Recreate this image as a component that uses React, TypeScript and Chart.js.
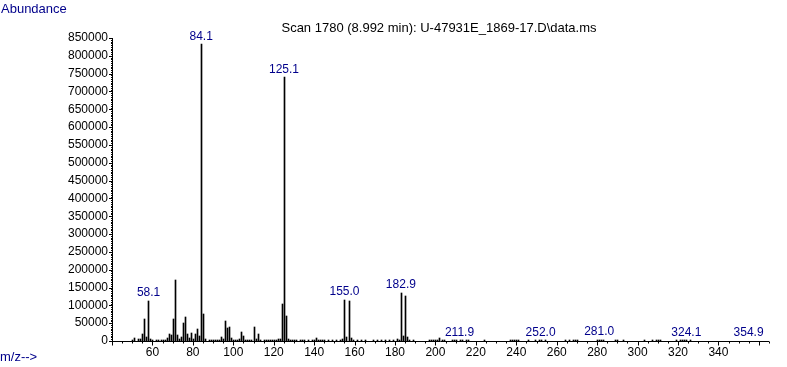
import React, { useEffect, useRef } from "react";
import { Chart, registerables } from "chart.js";

Chart.register(...registerables);

// ---- data ----
const mzValues = [
  50, 51, 53, 54, 55, 56, 57, 58, 59, 60, 62, 63, 64, 65, 66, 67, 68, 69, 70, 71, 72, 73, 74, 75, 76, 77, 78, 79, 80,
  81, 82, 83, 84, 85, 86, 88, 89, 90, 91, 92, 93, 94, 95, 96, 97, 98, 99, 100, 101, 102, 103, 104, 105, 106, 107, 108,
  109, 110, 111, 112, 113, 115, 116, 117, 118, 119, 120, 121, 122, 123, 124, 125, 126, 127, 128, 129, 130, 131, 133,
  134, 135, 137, 139, 140, 141, 142, 143, 144, 145, 147, 149, 151, 153, 154, 155, 156, 157, 158, 159, 161, 163, 165,
  169, 171, 173, 175, 177, 179, 181, 182, 183, 184, 185, 186, 187, 189, 197, 198, 199, 200, 201, 202, 203, 204, 208,
  209, 210, 212, 213, 215, 216, 224, 237, 238, 239, 240, 241, 246, 249, 251, 252, 254, 264, 266, 268, 269, 270, 280,
  281, 282, 283, 289, 290, 293, 303, 307, 309, 310, 311, 319, 321, 322, 323, 324, 326,
];
const abundances = [
  3000, 8000, 6000, 6000, 20000, 62000, 12000, 112000, 5000, 2000, 2000, 3000, 2000, 3000, 3000, 8000, 20000, 17000,
  62000, 171000, 17000, 5000, 11000, 51000, 67000, 19000, 9000, 23000, 7000, 20000, 34000, 15000, 832000, 75000, 5000,
  2000, 3000, 2000, 3000, 2000, 3000, 11000, 6000, 56000, 36000, 39000, 8000, 2000, 3000, 3000, 6000, 25000, 14000,
  3000, 2000, 4000, 4000, 39000, 6000, 20000, 3000, 2000, 2000, 3000, 2000, 2000, 2000, 3000, 6000, 6000, 104000,
  740000, 71000, 6000, 3000, 2000, 2000, 3000, 2000, 2000, 2000, 4000, 3000, 3000, 8000, 3000, 2000, 2000, 2000, 2000,
  2000, 2000, 3000, 5000, 115000, 11000, 112000, 8000, 3000, 2000, 2000, 2000, 3000, 2000, 3000, 2000, 2000, 2000,
  6000, 4000, 135000, 14000, 126000, 11000, 3000, 2000, 2000, 3000, 4000, 3000, 3000, 8000, 3000, 2000, 2000, 3000,
  2000, 2000, 3000, 2000, 2000, 2000, 2000, 3000, 2000, 4000, 3000, 2000, 2000, 3000, 2000, 2000, 2000, 2000, 2000,
  3000, 2000, 3000, 4000, 3000, 2000, 2000, 3000, 2000, 2000, 2000, 4000, 3000, 2000, 2000, 3000, 4000, 3000, 2000,
  2000,
];
const peakLabels = ["58.1", "84.1", "125.1", "155.0", "182.9", "211.9", "252.0", "281.0", "324.1", "354.9"];
const xTickValues = [60, 80, 100, 120, 140, 160, 180, 200, 220, 240, 260, 280, 300, 320, 340];
const yTickValues = [
  0, 50000, 100000, 150000, 200000, 250000, 300000, 350000, 400000, 450000, 500000, 550000, 600000, 650000, 700000,
  750000, 800000, 850000,
];
const titleText = "Scan 1780 (8.992 min): U-47931E_1869-17.D\\data.ms";
const yAxisTitle = "Abundance";
const xAxisTitle = "m/z-->";

const NAVY = "#00008b";
const FONT = "'Liberation Sans', Arial, sans-serif";

const crispBars = {
  id: "crispBars",
  beforeDatasetsDraw(chart: any) {
    const meta = chart.getDatasetMeta(0);
    meta.data.forEach((el: any) => {
      el.x = Math.round(el.x - 0.5) + 0.5 === el.x ? el.x : Math.round(el.x) + 0.5;
      el.y = Math.round(el.y);
    });
  },
};

const peakLabelPlugin = {
  id: "peakLabels",
  afterDatasetsDraw(chart: any) {
    const { ctx, scales } = chart;
    ctx.save();
    ctx.font = `12px ${FONT}`;
    ctx.fillStyle = NAVY;
    ctx.textAlign = "center";
    ctx.textBaseline = "middle";
    peakLabels.forEach((lab) => {
      const m = parseFloat(lab);
      let v = 0;
      mzValues.forEach((mz, i) => {
        if (Math.abs(mz - m) <= 0.6 && abundances[i] > v) v = abundances[i];
      });
      const px = scales.x.getPixelForValue(m);
      const py = scales.y.getPixelForValue(v) - 8;
      ctx.fillText(lab, px, py);
    });
    ctx.restore();
  },
};

const axesPlugin = {
  id: "msAxes",
  afterDraw(chart: any) {
    const { ctx, chartArea: a, scales } = chart;
    const xs = scales.x;
    const ys = scales.y;
    ctx.save();
    ctx.strokeStyle = "#000";
    ctx.lineWidth = 1;
    ctx.beginPath();
    const x0 = Math.round(a.left) + 0.5;
    const yb = Math.round(a.bottom) + 0.5;
    ctx.moveTo(x0, Math.round(a.top));
    ctx.lineTo(x0, yb + 0.5);
    ctx.moveTo(x0 - 0.5, yb);
    ctx.lineTo(Math.round(a.right), yb);
    for (let v = 0; v <= ys.max; v += 5000) {
      const py = Math.round(ys.getPixelForValue(v)) + 0.5;
      const major = v % 50000 === 0;
      ctx.moveTo(x0 - (major ? 3.5 : 1.5), py);
      ctx.lineTo(x0, py);
    }
    for (let v = 40; v <= xs.max; v += 5) {
      const px = Math.round(xs.getPixelForValue(v)) + 0.5;
      const major = v % 20 === 0;
      ctx.moveTo(px, yb);
      ctx.lineTo(px, yb + (major ? 4 : 2));
    }
    ctx.stroke();

    ctx.textBaseline = "middle";
    ctx.font = `13px ${FONT}`;
    ctx.fillStyle = NAVY;
    ctx.textAlign = "left";
    ctx.fillText(yAxisTitle, 1, 9);
    ctx.fillText(xAxisTitle, 0, 357);
    ctx.fillStyle = "#000";
    ctx.textAlign = "center";
    ctx.fillText(titleText, 439, 28);
    ctx.restore();
  },
};

export default function App() {
  const ref = useRef<HTMLCanvasElement>(null);
  useEffect(() => {
    if (!ref.current) return;
    const chart = new Chart(ref.current, {
      type: "bar",
      data: {
        datasets: [
          {
            data: mzValues.map((m, i) => ({ x: m, y: abundances[i] })),
            backgroundColor: "#000",
            borderWidth: 0,
            barThickness: 1,
          } as any,
        ],
      },
      options: {
        animation: false,
        responsive: false,
        devicePixelRatio: 1,
        layout: { padding: { left: 0, top: 38, right: 18, bottom: 0 } },
        plugins: { legend: { display: false }, tooltip: { enabled: false }, title: { display: false } },
        scales: {
          x: {
            type: "linear",
            min: 40,
            max: 365,
            offset: false,
            grid: { display: false, drawTicks: false },
            border: { display: false },
            ticks: {
              autoSkip: false,
              maxRotation: 0,
              padding: 4,
              color: "#000",
              font: { size: 12, family: FONT },
            },
            afterBuildTicks: (s: any) => {
              s.ticks = xTickValues.map((v) => ({ value: v }));
            },
            afterFit: (s: any) => {
              s.height = 26;
            },
          },
          y: {
            type: "linear",
            min: 0,
            max: 850000,
            grid: { display: false, drawTicks: false },
            border: { display: false },
            ticks: {
              padding: 4,
              color: "#000",
              font: { size: 12, family: FONT },
              callback: (v: any) => String(v),
            },
            afterBuildTicks: (s: any) => {
              s.ticks = yTickValues.map((v) => ({ value: v }));
            },
            afterFit: (s: any) => {
              s.width = 112;
            },
          },
        },
      },
      plugins: [crispBars, peakLabelPlugin, axesPlugin],
    });
    return () => chart.destroy();
  }, []);
  return (
    <div style={{ position: "absolute", left: 0, top: 0, width: 787, height: 367, background: "#fff" }}>
      <canvas ref={ref} width={787} height={367} style={{ display: "block" }} />
    </div>
  );
}
